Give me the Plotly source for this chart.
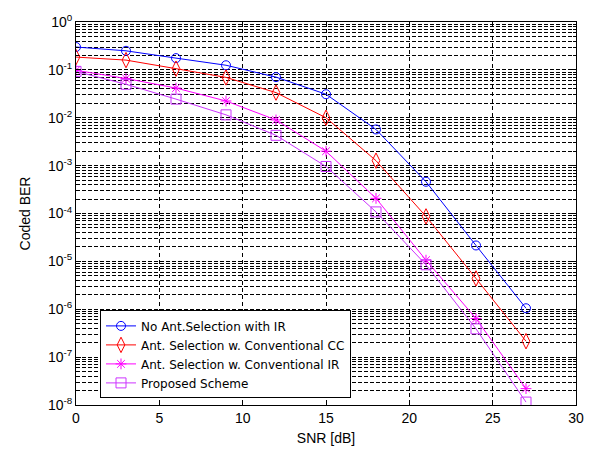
import plotly.graph_objects as go

# SNR points (dB)
snr = [0, 3, 6, 9, 12, 15, 18, 21, 24, 27]

# Coded BER for each scheme
ber_no_sel_ir = [0.30, 0.25, 0.176, 0.125, 0.0705, 0.031, 0.0057, 4.6e-4, 2.15e-5, 1.05e-6]
ber_sel_cc = [0.185, 0.16, 0.106, 0.0696, 0.0335, 0.0100, 1.27e-3, 8.7e-5, 4.4e-6, 2.15e-7]
ber_sel_ir = [0.098, 0.066, 0.0417, 0.0224, 0.0090, 2.0e-3, 2.07e-4, 1.06e-5, 6.4e-7, 2.2e-8]
ber_proposed = [0.093, 0.050, 0.0245, 0.0115, 4.3e-3, 9.6e-4, 1.08e-4, 8.5e-6, 3.9e-7, 1.15e-8]

series_names = [
    "No Ant.Selection with IR",
    "Ant. Selection w. Conventional CC",
    "Ant. Selection w. Conventional IR",
    "Proposed Scheme",
]
series_colors = ["#0000ff", "#ff0000", "#ff00ff", "#cc33ff"]
series_symbols = ["circle-open", "diamond-tall-open", "asterisk-open", "square-open"]
series_sizes = [9, 11, 9, 10]
series_data = [ber_no_sel_ir, ber_sel_cc, ber_sel_ir, ber_proposed]

decades = list(range(-8, 1))
major_vals = [10.0 ** d for d in decades]
major_text = ["10<sup>%d</sup>" % d for d in decades]
minor_vals = [k * 10.0 ** d for d in decades[:-1] for k in range(2, 10)]

fig = go.Figure()
for name, ys, col, sym, sz in zip(series_names, series_data, series_colors,
                                  series_symbols, series_sizes):
    fig.add_trace(go.Scatter(
        x=snr, y=ys, name=name, mode="lines+markers",
        line=dict(color=col, width=1),
        marker=dict(symbol=sym, size=sz, color=col, line=dict(color=col, width=1)),
    ))

family = "Liberation Sans, Arial, sans-serif"
font = dict(family=family, size=14, color="#000000")

fig.update_layout(
    width=596, height=456,
    margin=dict(l=76, r=17, t=15, b=45),
    paper_bgcolor="white", plot_bgcolor="white",
    font=font,
    showlegend=True,
    legend=dict(
        x=0.048, y=0.247, xanchor="left", yanchor="top",
        bgcolor="white", bordercolor="black", borderwidth=1,
        font=dict(family="DejaVu Sans, sans-serif", size=12, color="#000000"),
        tracegroupgap=0, itemwidth=30,
    ),
)

fig.update_xaxes(
    range=[0, 30], tickmode="array", tickvals=[0, 5, 10, 15, 20, 25, 30],
    showline=True, linecolor="black", linewidth=1, mirror="allticks",
    ticks="inside", ticklen=5, tickcolor="black",
    showgrid=True, gridcolor="black", gridwidth=1, griddash="4px,3px",
    zeroline=False,
    title=dict(text="SNR [dB]", standoff=8, font=font),
    tickfont=font,
)

fig.update_yaxes(
    type="log", range=[-8, 0],
    tickmode="array", tickvals=major_vals, ticktext=major_text,
    showline=True, linecolor="black", linewidth=1, mirror="allticks",
    ticks="inside", ticklen=5, tickcolor="black",
    showgrid=True, gridcolor="black", gridwidth=1, griddash="4px,2px",
    minor=dict(tickvals=minor_vals, ticks="inside", ticklen=3, tickcolor="black",
               showgrid=True, gridcolor="black", gridwidth=1, griddash="4px,2px"),
    zeroline=False,
    title=dict(text="Coded BER", standoff=14, font=font),
    tickfont=font,
)

fig.write_html("out.html")
